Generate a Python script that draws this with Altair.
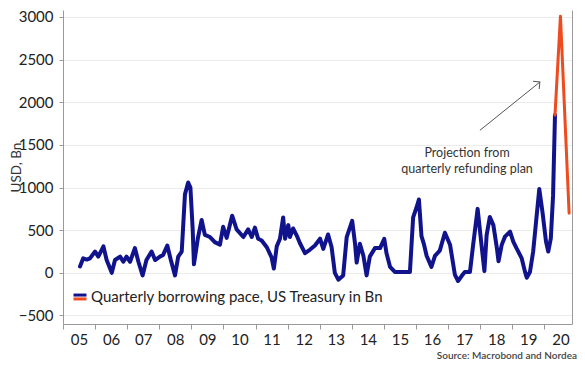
import altair as alt
import pandas as pd

# ---- data -------------------------------------------------------------
years = [2005.53, 2005.63, 2005.74, 2005.84, 2006.00, 2006.10, 2006.26, 2006.36,
         2006.52, 2006.62, 2006.78, 2006.88, 2006.98, 2007.09, 2007.24, 2007.35,
         2007.48, 2007.60, 2007.76, 2007.87, 2008.02, 2008.12, 2008.25, 2008.36,
         2008.49, 2008.59, 2008.70, 2008.80, 2008.90, 2008.97, 2009.04, 2009.08,
         2009.20, 2009.32, 2009.42, 2009.58, 2009.73, 2009.89, 2009.99, 2010.10,
         2010.27, 2010.41, 2010.62, 2010.77, 2010.88, 2010.98, 2011.08, 2011.19,
         2011.35, 2011.50, 2011.57, 2011.66, 2011.76, 2011.86, 2011.92, 2012.02,
         2012.07, 2012.17, 2012.28, 2012.38, 2012.54, 2012.69, 2012.85, 2013.01,
         2013.11, 2013.26, 2013.37, 2013.47, 2013.58, 2013.73, 2013.84, 2014.01,
         2014.10, 2014.15, 2014.25, 2014.36, 2014.46, 2014.56, 2014.72, 2014.88,
         2015.01, 2015.08, 2015.19, 2015.34, 2015.81, 2015.91, 2016.01, 2016.09,
         2016.17, 2016.25, 2016.33, 2016.48, 2016.59, 2016.74, 2016.90, 2017.06,
         2017.21, 2017.31, 2017.42, 2017.52, 2017.68, 2017.78, 2017.92, 2018.04,
         2018.13, 2018.20, 2018.30, 2018.41, 2018.52, 2018.57, 2018.67, 2018.77,
         2018.93, 2019.03, 2019.13, 2019.29, 2019.39, 2019.45, 2019.55, 2019.65,
         2019.74, 2019.84, 2019.94, 2020.05, 2020.12, 2020.20, 2020.27, 2020.33]
values = [75, 170, 155, 170, 250, 190, 310, 150,
          0, 150, 190, 130, 190, 130, 290, 130,
          -30, 150, 250, 150, 190, 210, 320, 150,
          -30, 190, 250, 920, 1060, 1000, 520, 100,
          400, 620, 445, 420, 360, 330, 540, 410,
          670, 510, 420, 510, 420, 530, 400, 380,
          300, 180, 50, 310, 400, 650, 400, 560,
          420, 520, 440, 350, 230, 270, 320, 400,
          280, 450, 300, 0, -80, -30, 420, 610,
          340, 120, 340, 200, -30, 190, 290, 290,
          400, 230, 70, 10, 10, 650, 760, 860,
          430, 330, 200, 70, 200, 260, 470, 330,
          -20, -96, -38, 10, 10, 328, 750, 328,
          20, 443, 655, 559, 289, 135, 328, 424,
          482, 366, 289, 173, 20, -58, 10, 250,
          598, 982, 713, 366, 250, 404, 905, 1850]

proj_years = [2020.33, 2020.50, 2020.77]
proj_values = [1850, 3010, 700]

tick_years = list(range(2005, 2021))
y_ticks = [-500, 0, 500, 1000, 1500, 2000, 2500, 3000]

arrow_years = [2017.99, 2019.86]
arrow_values = [1671, 2237]

note_lines = ["Projection from", "quarterly refunding plan"]
note_years = [2017.59, 2017.59]
note_values = [1406, 1221]

legend_label = "Quarterly borrowing pace, US Treasury in Bn"
source_text = "Source: Macrobond and Nordea"

# ---- styling ------------------------------------------------------------
FONT = "Lato"
NAVY = "#10138c"
ORANGE = "#ee4b1e"
AXIS_GREY = "#9a9a9a"
TEXT = "#222222"

df_blue = pd.DataFrame({"year": years, "value": values, "series": legend_label})
df_proj = pd.DataFrame({"year": proj_years, "value": proj_values, "series": legend_label})
df_arrow = pd.DataFrame({"year": arrow_years, "value": arrow_values})
df_head = df_arrow.tail(1)
df_note = pd.DataFrame({"year": note_years, "value": note_values, "text": note_lines})

x_scale = alt.Scale(domain=[2005, 2020.86], nice=False, zero=False)
y_scale = alt.Scale(domain=[-600, 3082], nice=False, zero=False)

x_axis = alt.Axis(values=tick_years,
                  labelExpr="format(datum.value - 2000, '02d')",
                  labelOffset=16, tickSize=5, labelPadding=3, grid=False,
                  domainColor=AXIS_GREY, tickColor=AXIS_GREY,
                  labelFontSize=15, labelFont=FONT, labelColor=TEXT,
                  labelFlush=False, labelOverlap=False, labelBound=False)
X = alt.X("year:Q", scale=x_scale, title=None, axis=x_axis)

legend_common = dict(title=None, orient="none", legendX=9, legendY=279,
                     symbolSize=169, symbolStrokeWidth=3, labelLimit=500,
                     labelFontSize=15, labelFont=FONT, labelColor=TEXT, labelOffset=3)

blue = alt.Chart(df_blue).mark_line(strokeWidth=4, strokeJoin="round", strokeCap="round").encode(
    x=X,
    y=alt.Y("value:Q", scale=y_scale, title="USD, Bn",
            axis=alt.Axis(values=y_ticks, format="d", grid=True, gridColor="#ebebeb",
                          tickSize=4, labelPadding=6,
                          domainColor=AXIS_GREY, tickColor=AXIS_GREY,
                          labelFontSize=15, labelFont=FONT, labelColor=TEXT,
                          titleFontSize=13.5, titleFont=FONT, titleColor="#333333",
                          titleFontWeight="normal", titleX=-40)),
    color=alt.Color("series:N", scale=alt.Scale(domain=[legend_label], range=[NAVY]),
                    legend=alt.Legend(symbolType="M-1,-0.3H1", **legend_common)),
)

proj = alt.Chart(df_proj).mark_line(strokeWidth=3, strokeJoin="round", strokeCap="round").encode(
    x=X,
    y=alt.Y("value:Q", scale=y_scale,
            axis=alt.Axis(orient="right", labels=False, ticks=False, grid=False,
                          domainColor=AXIS_GREY, title=None)),
    color=alt.Color("series:N", scale=alt.Scale(domain=[legend_label], range=[ORANGE]),
                    legend=alt.Legend(symbolType="M-1,0.3H1", labelOpacity=0, **legend_common)),
)

arrow = alt.Chart(df_arrow).mark_line(strokeWidth=1, color="#555555").encode(
    x=X,
    y=alt.Y("value:Q", scale=y_scale, axis=None),
)

head = alt.Chart(df_head).mark_point(shape="M-0.8,0.8L0,0L0.8,0.8", angle=51, size=150,
                                     filled=False, strokeWidth=1, color="#555555",
                                     opacity=1).encode(
    x=X,
    y=alt.Y("value:Q", scale=y_scale, axis=None),
)

note = alt.Chart(df_note).mark_text(font=FONT, fontSize=12.5, color="#333333",
                                    align="center", baseline="middle").encode(
    x=X,
    y=alt.Y("value:Q", scale=y_scale, axis=None),
    text="text:N",
)

chart = alt.layer(blue, proj, arrow, head, note).resolve_scale(
    color="independent"
).resolve_axis(
    y="independent"
).properties(
    width=509, height=314,
    autosize=alt.AutoSizeParams(type="none"),
    padding={"left": 55, "top": 2, "right": 5, "bottom": 38},
    title=alt.TitleParams(source_text, orient="bottom", anchor="end", fontSize=10,
                          font=FONT, color="#444444", fontWeight=600, offset=4, dx=5),
).configure_view(stroke=None)

chart.save("out.html", embed_options={"renderer": "svg", "actions": False})
